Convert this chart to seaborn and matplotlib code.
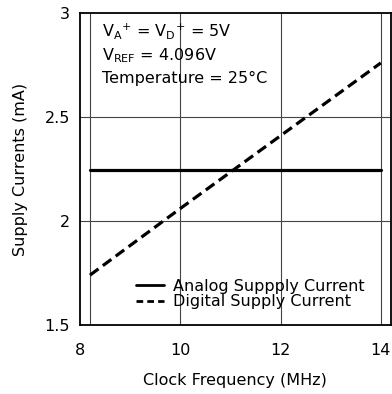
import matplotlib
matplotlib.use("Agg")
import matplotlib.pyplot as plt
import seaborn as sns
import pandas as pd

freq = [8.2, 10, 12, 14]
analog = [2.245, 2.245, 2.245, 2.245]
digital = [1.74, 2.06, 2.41, 2.76]
series_names = ["Analog Suppply Current", "Digital Supply Current"]
x_ticks = [8, 10, 12, 14]
y_ticks = [1.5, 2, 2.5, 3]
y_labels = ["1.5", "2", "2.5", "3"]

df = pd.DataFrame({
    "freq": freq * 2,
    "current": analog + digital,
    "series": [series_names[0]] * len(freq) + [series_names[1]] * len(freq),
})

sns.set_style("white")
plt.rcParams["font.family"] = ["DejaVu Sans"]
plt.rcParams["text.color"] = "black"
plt.rcParams["axes.labelcolor"] = "black"
plt.rcParams["xtick.color"] = "black"
plt.rcParams["ytick.color"] = "black"

FS = 11.5

fig = plt.figure(figsize=(3.92, 3.94), dpi=100)
ax = fig.add_axes([0.204, 0.175, 0.793, 0.792])

for xv in [8.2, 10, 12, 14]:
    ax.axvline(xv, color="#444444", lw=0.8, zorder=0)
for yv in [2, 2.5]:
    ax.axhline(yv, color="#444444", lw=0.8, zorder=0)

sns.lineplot(data=df, x="freq", y="current", hue="series", style="series",
             palette=["black", "black"], dashes=[(None, None), (3.3, 1.7)],
             linewidth=2.3, ax=ax, legend=True)

ax.set_xlim(8, 14.2)
ax.set_ylim(1.5, 3)
ax.set_xticks(x_ticks)
ax.set_yticks(y_ticks)
ax.set_yticklabels(y_labels)
ax.tick_params(axis="x", length=0, labelsize=FS, pad=13)
ax.tick_params(axis="y", length=0, labelsize=FS, pad=7)
for s in ax.spines.values():
    s.set_color("black")
    s.set_linewidth(1.3)

ax.set_xlabel("Clock Frequency (MHz)", fontsize=FS, labelpad=11)
ax.set_ylabel("Supply Currents (mA)", fontsize=FS, labelpad=12)

leg = ax.legend(loc="lower left", bbox_to_anchor=(0.18, 0.05), frameon=False,
                fontsize=FS, handlelength=1.75, handletextpad=0.55,
                labelspacing=0.05, borderaxespad=0, borderpad=0)
for i, line in enumerate(leg.get_lines()):
    line.set_linewidth(2.0)
    if i == 1:
        line.set_dashes([2.4, 1.5])

ax.text(0.071, 0.925, r"V$_\mathregular{A}$$^\mathregular{+}$ = V$_\mathregular{D}$$^\mathregular{+}$ = 5V",
        transform=ax.transAxes, fontsize=FS, va="baseline", ha="left")
ax.text(0.071, 0.849, r"V$_\mathregular{REF}$ = 4.096V",
        transform=ax.transAxes, fontsize=FS, va="baseline", ha="left")
ax.text(0.071, 0.776, "Temperature = 25°C",
        transform=ax.transAxes, fontsize=FS, va="baseline", ha="left")

fig.savefig("out.png", dpi=100)
